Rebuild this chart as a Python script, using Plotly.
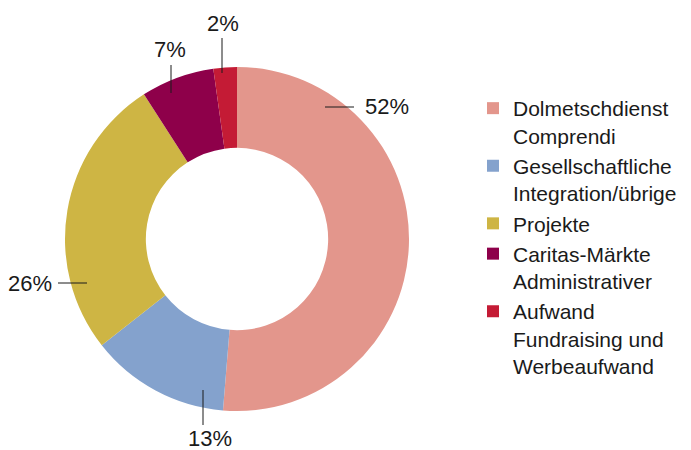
import plotly.graph_objects as go

# ---- data ----
categories = [
    "Dolmetschdienst<br>Comprendi",
    "Gesellschaftliche<br>Integration/übrige",
    "Projekte",
    "Caritas-Märkte<br>Administrativer",
    "Aufwand<br>Fundraising und<br>Werbeaufwand",
]
# slice sizes
shares = [51.3, 13.1, 26.5, 6.9, 2.2]
pct_labels = ["52%", "13%", "26%", "7%", "2%"]
colors = ["#E3968C", "#84A2CD", "#CEB544", "#8E004A", "#C41B35"]

# ---- layout helpers (pixel positions in a 691x450 canvas) ----
W, H = 691, 450
def px(x):
    return x / W
def py(y):
    return 1 - y / H

FONT = "Liberation Sans, Arial, Helvetica, sans-serif"

# leader line endpoints and label anchors (layout only)
leader_lines = [
    ((325, 107), (354, 107)),
    ((203, 390), (203, 425)),
    ((58, 283), (87, 283)),
    ((171, 65), (171, 93)),
    ((222, 38), (222, 73)),
]
label_pos = [
    (363, 107, "left"),
    (210, 438, "center"),
    (54, 283, "right"),
    (170, 49, "center"),
    (223, 23, "center"),
]

fig = go.Figure()
fig.add_trace(go.Pie(
    labels=categories,
    values=shares,
    marker=dict(colors=colors, line=dict(width=0)),
    hole=0.53,
    sort=False,
    direction="clockwise",
    rotation=0,
    textinfo="none",
    hoverinfo="label",
    domain=dict(x=[px(65), px(409)], y=[py(411), py(67)]),
))

shapes = []
for (x0, y0), (x1, y1) in leader_lines:
    shapes.append(dict(type="line", xref="paper", yref="paper",
                       x0=px(x0), y0=py(y0), x1=px(x1), y1=py(y1),
                       line=dict(color="#1a1a1a", width=1)))

annotations = []
for txt, (x, y, anc) in zip(pct_labels, label_pos):
    annotations.append(dict(text=txt, xref="paper", yref="paper",
                            x=px(x), y=py(y), xanchor=anc, yanchor="middle",
                            showarrow=False,
                            font=dict(family=FONT, size=22, color="#1a1a1a")))

fig.update_layout(
    width=W, height=H,
    margin=dict(l=0, r=0, t=0, b=0),
    paper_bgcolor="white",
    plot_bgcolor="white",
    shapes=shapes,
    annotations=annotations,
    showlegend=True,
    legend=dict(
        x=px(473), y=py(88), xanchor="left", yanchor="top",
        font=dict(family=FONT, size=21, color="#1a1a1a"),
        valign="top",
        traceorder="normal",
        bgcolor="rgba(0,0,0,0)",
    ),
)

fig.write_html(
    "out.html",
    config={"displayModeBar": False},
    post_script="document.body.style.margin='0';document.body.style.overflow='hidden';",
)
